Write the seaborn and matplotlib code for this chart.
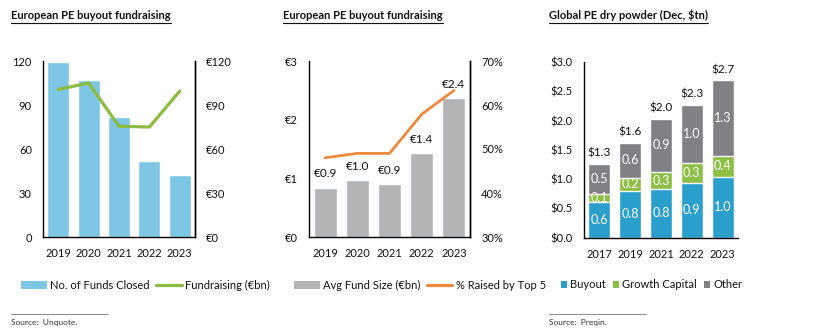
import numpy as np
import pandas as pd
import matplotlib
matplotlib.use("Agg")
import matplotlib.pyplot as plt
from matplotlib.lines import Line2D
from matplotlib.patches import Patch
import seaborn as sns

sns.set_theme(style="white")
plt.rcParams['font.family'] = ['Lato', 'DejaVu Sans']

# ---------------- data ----------------
years1 = ["2019", "2020", "2021", "2022", "2023"]
funds_closed = [119, 107, 82, 52, 42]
fundraising_bn = [100.5, 105, 75.5, 75, 99.5]

years2 = ["2019", "2020", "2021", "2022", "2023"]
avg_fund_size = [0.84, 0.97, 0.90, 1.43, 2.37]
avg_fund_labels = ["€0.9", "€1.0", "€0.9", "€1.4", "€2.4"]
pct_top5 = [48.0, 49.0, 49.0, 57.9, 63.3]

years3 = ["2017", "2019", "2021", "2022", "2023"]
buyout = [0.61, 0.80, 0.83, 0.93, 1.04]
growth = [0.14, 0.22, 0.29, 0.35, 0.36]
other = [0.51, 0.60, 0.91, 0.99, 1.29]
buyout_lbl = ["0.6", "0.8", "0.8", "0.9", "1.0"]
growth_lbl = ["0.1", "0.2", "0.3", "0.3", "0.4"]
other_lbl = ["0.5", "0.6", "0.9", "1.0", "1.3"]
total_lbl = ["$1.3", "$1.6", "$2.0", "$2.3", "$2.7"]

titles = ["European PE buyout fundraising", "European PE buyout fundraising",
          "Global PE dry powder (Dec, $tn)"]

# ---------------- style ----------------
C_LBLUE = "#7DC6E4"
C_GREEN = "#8CBB3F"
C_LGREY = "#B3B4B6"
C_ORANGE = "#EE8A3C"
C_BLUE3 = "#2A9FCB"
C_GREEN3 = "#8DBE45"
C_GREY3 = "#7F8184"
TXT = "#111111"
FS = 8

W, H = 817, 333
fig = plt.figure(figsize=(W / 100, H / 100), dpi=100)


def ax_rect(x0, x1, ytop, ybot):
    return [x0 / W, (H - ybot) / H, (x1 - x0) / W, (ybot - ytop) / H]


def style_axis(ax, right=False):
    for s in ["top"]:
        ax.spines[s].set_visible(False)
    for s in ["left", "bottom", "right"]:
        ax.spines[s].set_color("black")
        ax.spines[s].set_linewidth(1.0)
    ax.tick_params(axis="both", length=0, labelsize=FS, colors=TXT, pad=8)
    ax.set_xlabel("")
    ax.set_ylabel("")
    ax.grid(False)


# ---------------- panel 1 ----------------
ax1 = fig.add_axes(ax_rect(43, 195, 61, 237))
df1 = pd.DataFrame({"year": years1, "funds": funds_closed, "raise": fundraising_bn})
sns.barplot(data=df1, x="year", y="funds", color=C_LBLUE, width=0.72,
            saturation=1, ax=ax1)
ax1.set_ylim(0, 120)
ax1.set_yticks([0, 30, 60, 90, 120])
ax1.set_xlim(-0.5, 4.5)
style_axis(ax1)
ax1.spines["right"].set_visible(True)
ax1b = ax1.twinx()
sns.lineplot(x=np.arange(len(years1)), y=fundraising_bn, color=C_GREEN,
             linewidth=2.3, ax=ax1b)
ax1b.set_ylim(0, 120)
ax1b.set_yticks([0, 30, 60, 90, 120])
ax1b.set_yticklabels([f"€{v}" for v in [0, 30, 60, 90, 120]])
style_axis(ax1b)
ax1b.spines["left"].set_visible(False)
ax1b.spines["bottom"].set_visible(False)
ax1.set_xlim(-0.5, 4.5)

# ---------------- panel 2 ----------------
ax2 = fig.add_axes(ax_rect(309, 470, 61, 237))
df2 = pd.DataFrame({"year": years2, "size": avg_fund_size})
sns.barplot(data=df2, x="year", y="size", color=C_LGREY, width=0.72,
            saturation=1, ax=ax2)
ax2.set_ylim(0, 3)
ax2.set_yticks([0, 1, 2, 3])
ax2.set_yticklabels([f"€{v}" for v in [0, 1, 2, 3]])
style_axis(ax2)
for i, (v, lab) in enumerate(zip(avg_fund_size, avg_fund_labels)):
    ax2.annotate(lab, (i, v), xytext=(0, 10), textcoords="offset points",
                 ha="center", va="center", fontsize=FS + 0.5, color=TXT)
ax2b = ax2.twinx()
sns.lineplot(x=np.arange(len(years2)), y=pct_top5, color=C_ORANGE,
             linewidth=2.0, ax=ax2b)
ax2b.set_ylim(30, 70)
ax2b.set_yticks([30, 40, 50, 60, 70])
ax2b.set_yticklabels([f"{v}%" for v in [30, 40, 50, 60, 70]])
style_axis(ax2b)
ax2b.spines["left"].set_visible(False)
ax2b.spines["bottom"].set_visible(False)
ax2.set_xlim(-0.5, 4.5)

# ---------------- panel 3 ----------------
ax3 = fig.add_axes(ax_rect(584, 738, 62, 237.7))
tot = np.array(buyout) + np.array(growth) + np.array(other)
bg = np.array(buyout) + np.array(growth)
df3 = pd.DataFrame({"year": years3, "total": tot, "bg": bg, "b": buyout})
sns.barplot(data=df3, x="year", y="total", color=C_GREY3, width=0.71, saturation=1, ax=ax3)
sns.barplot(data=df3, x="year", y="bg", color=C_GREEN3, width=0.71, saturation=1, ax=ax3)
sns.barplot(data=df3, x="year", y="b", color=C_BLUE3, width=0.71, saturation=1, ax=ax3)
ax3.set_ylim(0, 3)
ax3.set_yticks(np.arange(0, 3.01, 0.5))
ax3.set_yticklabels([f"${v:.1f}" for v in np.arange(0, 3.01, 0.5)])
ax3.set_xlim(-0.5, 4.5)
style_axis(ax3)
ax3.spines["right"].set_visible(False)
for i in range(len(years3)):
    ax3.text(i, buyout[i] / 2, buyout_lbl[i], ha="center", va="center",
             color="white", fontsize=FS + 1)
    ax3.text(i, buyout[i] + growth[i] / 2, growth_lbl[i], ha="center", va="center",
             color="white", fontsize=FS + 1)
    ax3.text(i, bg[i] + other[i] / 2, other_lbl[i], ha="center", va="center",
             color="white", fontsize=FS + 1)
    ax3.annotate(total_lbl[i], (i, tot[i]), xytext=(0, 7.5), textcoords="offset points",
                 ha="center", va="center", fontsize=FS + 0.5, color=TXT)

# ---------------- titles (bold + underline) ----------------
title_x = [11, 283, 549]
title_objs = []
for tx, tt in zip(title_x, titles):
    t = fig.text(tx / W, (H - 19) / H, tt, fontsize=FS, fontweight="bold",
                 color=TXT, ha="left", va="baseline")
    title_objs.append(t)

# ---------------- legends ----------------
ly = (H - 285) / H
leg_kw = dict(frameon=False, loc="center left", borderpad=0, borderaxespad=0,
              fontsize=FS, ncol=2, handletextpad=0.3, columnspacing=0.6,
              labelcolor=TXT)
fig.legend(handles=[Patch(facecolor=C_LBLUE, edgecolor="none", label="No. of Funds Closed"),
                    Line2D([0], [0], color=C_GREEN, lw=2.3, label="Fundraising (€bn)")],
           bbox_to_anchor=(21 / W, ly), handlelength=2.3, handleheight=0.7, **leg_kw)
fig.legend(handles=[Patch(facecolor=C_LGREY, edgecolor="none", label="Avg Fund Size (€bn)"),
                    Line2D([0], [0], color=C_ORANGE, lw=2.3, label="% Raised by Top 5")],
           bbox_to_anchor=(294 / W, ly), handlelength=2.3, handleheight=0.7, **leg_kw)
kw3 = dict(leg_kw)
kw3["ncol"] = 3
fig.legend(handles=[Patch(facecolor=C_BLUE3, edgecolor="none", label="Buyout"),
                    Patch(facecolor=C_GREEN3, edgecolor="none", label="Growth Capital"),
                    Patch(facecolor=C_GREY3, edgecolor="none", label="Other")],
           bbox_to_anchor=(561 / W, ly), handlelength=0.55, handleheight=0.6, **kw3)

# ---------------- sources ----------------
for sx, stxt in [(11, "Source:  Unquote."), (549, "Source:  Preqin.")]:
    fig.add_artist(Line2D([sx / W, (sx + 97) / W], [(H - 314) / H] * 2,
                          color="#777777", lw=0.6))
    fig.text(sx / W, (H - 322) / H, stxt, fontsize=6, color="#333333",
             ha="left", va="center")

# underline titles
fig.canvas.draw()
r = fig.canvas.get_renderer()
for t in title_objs:
    bb = t.get_window_extent(renderer=r)
    x0, x1 = bb.x0 / W, bb.x1 / W
    yline = (H - 22.5) / H
    fig.add_artist(Line2D([x0, x1], [yline, yline], color=TXT, lw=0.8))

fig.savefig("out.png", dpi=100)
